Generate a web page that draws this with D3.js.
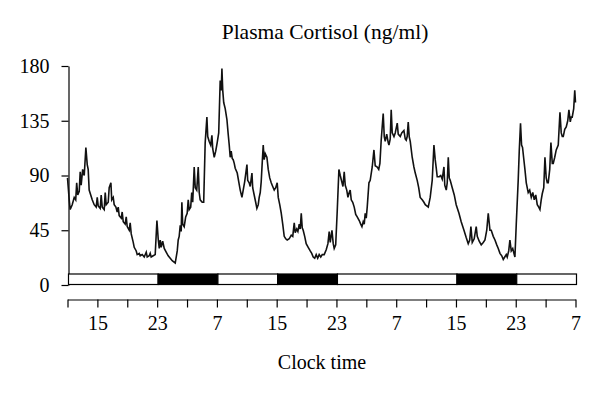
<!DOCTYPE html>
<html>

<head>
    <meta charset="UTF-8">
    <style>
        body { margin: 0; background: #fff; }
        svg { display: block; font-family: "Liberation Serif", "Times New Roman", serif; }
    </style>
</head>

<body>
    <svg></svg>
    <script src="https://d3js.org/d3.v7.min.js"></script>

    <script>

        let width = 600, height = 393;

        // hours after 11:00 on day 1, and plasma cortisol (ng/ml)
        const hours = [
            0.00, 0.23, 0.36, 0.63, 0.90, 1.10, 1.23, 1.37, 1.57, 1.70, 1.83, 2.03, 2.24, 2.46, 2.64, 2.77, 2.90,
            3.31, 3.57, 3.84, 3.98, 4.11, 4.38, 4.51, 4.65, 4.91, 5.05, 5.18, 5.45, 5.58, 5.81, 5.92, 6.12, 6.25,
            6.48, 6.65, 6.79, 6.92, 7.19, 7.32, 7.46, 7.72, 7.86, 7.99, 8.26, 8.39, 8.53, 8.80, 8.93, 9.20, 9.33,
            9.60, 9.73, 10.00, 10.27, 10.54, 10.67, 10.94, 11.07, 11.20, 11.47, 11.74, 11.97, 12.14, 12.28, 12.41,
            12.54, 12.74, 12.95, 13.21, 13.48, 13.75, 14.02, 14.42,
            14.69, 14.82, 14.95, 15.09, 15.22, 15.31, 15.42, 15.62, 15.82, 16.02, 16.16, 16.29, 16.49, 16.63, 16.76,
            16.96, 17.10, 17.30, 17.50, 17.63, 17.76, 18.03, 18.23, 18.43, 18.66, 18.77, 18.97, 19.17, 19.33, 19.44,
            19.64, 19.84, 20.04, 20.24, 20.44, 20.58, 20.67, 20.78, 20.91, 21.11, 21.34, 21.51, 21.65, 21.78, 21.91,
            22.05, 22.18, 22.32, 22.45, 22.72, 22.92, 23.12, 23.35, 23.52, 23.72, 24.02, 24.12, 24.32, 24.46, 24.69,
            24.79, 24.99, 25.19, 25.35, 25.53, 25.66, 25.80, 25.93, 26.06, 26.20, 26.33, 26.47, 26.69, 26.87, 27.07, 27.27,
            27.40, 27.67, 27.87, 28.07, 28.21, 28.41, 28.61, 28.81, 29.01, 29.21, 29.41, 29.68, 29.95, 30.15, 30.35,
            30.48, 30.68, 30.84, 31.02, 31.15, 31.29, 31.42, 31.55, 31.75, 31.95, 32.22, 32.49, 32.69, 32.89, 33.09,
            33.29, 33.49, 33.69, 33.90, 34.10, 34.36, 34.63, 34.86, 35.03, 35.17, 35.40, 35.57, 35.70, 35.90, 36.10,
            36.33, 36.51, 36.71, 36.87, 37.04, 37.18, 37.38, 37.54, 37.71, 37.84, 37.98, 38.18, 38.38, 38.58, 38.78,
            39.05, 39.25, 39.41, 39.58, 39.72, 39.85, 39.99, 40.12, 40.35, 40.52, 40.79,
            41.02, 41.19, 41.46, 41.66, 41.82, 41.99, 42.26, 42.40, 42.53, 42.73, 42.93, 43.03, 43.20, 43.33, 43.47,
            43.70, 43.87, 44.14, 44.27, 44.54, 44.74, 45.03, 45.21, 45.34, 45.47, 45.61, 45.74, 45.88, 46.14, 46.37,
            46.55, 46.81, 47.01, 47.21, 47.48, 47.71, 47.89, 48.09, 48.29, 48.55, 48.82, 49.05, 49.22, 49.36, 49.49,
            49.76, 49.96, 50.16, 50.39, 50.50, 50.70, 50.83, 50.97, 51.10, 51.23, 51.50, 51.77, 52.03, 52.40, 52.70,
            53.07, 53.37, 53.64,
            53.84, 54.00, 54.18, 54.44, 54.71, 54.85, 55.11, 55.38, 55.65, 55.88, 56.12, 56.32, 56.55, 56.72, 56.99,
            57.22, 57.46, 57.66, 57.89, 58.13, 58.33, 58.53, 58.73, 58.86, 59.06, 59.22, 59.40, 59.60, 59.80, 59.89,
            60.07, 60.33, 60.47, 60.64, 60.78, 60.91, 61.07, 61.23, 61.41, 61.67, 61.87, 62.08, 62.28, 62.48, 62.68,
            62.88, 63.08, 63.24, 63.41, 63.55, 63.75, 63.91, 64.08, 64.22, 64.35, 64.55, 64.71, 64.89, 65.02, 65.22,
            65.42, 65.69, 65.92, 66.09, 66.23, 66.36, 66.56, 66.76, 66.96, 67.12, 67.30, 67.43, 67.56, 67.76, 67.90, 68.00
        ];
        const cortisol = [
            88, 70, 62, 66, 72, 70, 84, 74, 77, 93, 82, 95, 90, 113, 99, 95, 78,
            70, 66, 64, 72, 65, 63, 74, 64, 62, 76, 66, 68, 80, 84, 70, 72, 66,
            64, 60, 64, 57, 55, 60, 52, 50, 56, 48, 45, 51, 42, 35, 31, 28, 25,
            26, 24, 25, 23, 27, 23, 24, 26, 23, 24, 25, 53, 38, 30, 37,
            31, 36, 30, 27, 24, 22, 20, 18,
            28, 37, 40, 49, 44, 68, 50, 48, 56, 59, 70, 62, 64, 76, 68,
            97, 80, 78, 97, 76, 70, 68, 68, 117, 138, 122, 118, 115, 123, 112,
            105, 110, 117, 125, 168, 160, 178, 160, 150, 145, 136, 124, 115, 105, 110,
            104, 103, 100, 96, 92, 85, 78, 72, 78, 85, 99, 86, 84, 81, 92,
            80, 74, 68, 63, 66, 72, 76, 85, 100, 115, 103, 108, 105, 95, 88, 84,
            82, 78, 80, 84, 72, 66, 59, 50, 40, 38, 37, 38, 41, 40, 51,
            43, 46, 44, 50, 46, 59, 47, 45, 40, 34, 31, 28, 26, 23, 22,
            25, 22, 25, 23, 25, 25, 29, 34, 44, 35, 45, 34, 30, 33, 60,
            95, 90, 85, 81, 93, 82, 78, 72, 76, 78, 70, 68, 64, 58, 56,
            53, 50, 48, 52, 50, 59, 55, 64, 84, 86, 97,
            111, 98, 97, 95, 100, 119, 141, 122, 118, 124, 117, 115, 120, 144, 125,
            122, 125, 133, 124, 122, 125, 127, 120, 119, 122, 134, 122, 118, 105, 97,
            92, 86, 80, 72, 70, 68, 66, 65, 64, 72, 86, 115, 103, 96, 89,
            89, 90, 87, 97, 82, 78, 84, 105, 88, 86, 80, 74, 66, 59, 52,
            45, 39, 34,
            37, 48, 35, 38, 48, 40, 36, 33, 35, 37, 45, 59, 45, 45, 40,
            37, 33, 30, 26, 24, 21, 23, 25, 23, 28, 37, 28, 30, 25, 23,
            50, 86, 110, 133, 115, 113, 104, 95, 84, 76, 78, 72, 76, 70, 74,
            66, 64, 62, 70, 75, 80, 105, 88, 84, 84, 95, 117, 100, 100, 105,
            111, 115, 142, 125, 122, 122, 128, 130, 135, 144, 134, 138, 138, 145, 160, 150
        ];

        // light / dark schedule bar
        const phaseStart = [0, 12, 20, 28, 36, 52, 60];
        const phaseEnd = [12, 20, 28, 36, 52, 60, 68];
        const phaseDark = [false, true, false, true, false, true, false];

        const yTicks = [0, 45, 90, 135, 180];
        const xTicks = d3.range(0, 69, 4);
        const startClock = 11;

        let svg = d3.select("svg")
            .attr("width", width)
            .attr("height", height)
            .attr("viewBox", "0 0 " + width + " " + height);

        const x = d3.scaleLinear().domain([0, 68]).range([67.5, 575.5]);
        const y = d3.scaleLinear().domain([0, 180]).range([285, 66]);

        // title
        svg.append("text")
            .attr("x", 325)
            .attr("y", 39)
            .attr("text-anchor", "middle")
            .style("font-size", "21.5px")
            .text("Plasma Cortisol (ng/ml)");

        // y axis
        let yAxis = svg.append("g")
            .attr("transform", "translate(68.5,0)")
            .call(d3.axisLeft(y).tickValues(yTicks).tickSize(7).tickSizeOuter(0).tickPadding(12));
        yAxis.select(".domain").attr("stroke-width", 1.2);
        yAxis.selectAll(".tick line").attr("stroke-width", 1.2);
        yAxis.selectAll("text").style("font-size", "20px").attr("fill", "#000")
            .style("font-family", "'Liberation Serif', serif");

        // schedule bar
        svg.append("g")
            .selectAll("rect")
            .data(phaseStart)
            .enter()
            .append("rect")
            .attr("x", (d, i) => x(d) + 1)
            .attr("width", (d, i) => x(phaseEnd[i]) - x(d))
            .attr("y", y(0) - 11)
            .attr("height", 10.5)
            .attr("fill", (d, i) => phaseDark[i] ? "#000" : "#fff")
            .attr("stroke", "#000")
            .attr("stroke-width", 1.2);

        // cortisol trace
        let line = d3.line()
            .x((d, i) => x(hours[i]))
            .y(d => y(d));

        svg.append("path")
            .datum(cortisol)
            .attr("d", line)
            .attr("fill", "none")
            .attr("stroke", "#111")
            .attr("stroke-width", 1.6)
            .attr("stroke-linejoin", "miter");

        // x axis
        let xAxis = svg.append("g")
            .attr("transform", "translate(0,299.5)")
            .call(d3.axisBottom(x)
                .tickValues(xTicks)
                .tickSize(8)
                .tickSizeOuter(0)
                .tickPadding(8)
                .tickFormat(d => (d - 4) % 8 === 0 ? (startClock + d) % 24 : ""));
        xAxis.select(".domain").attr("stroke-width", 1.2);
        xAxis.selectAll(".tick line").attr("stroke-width", 1.2);
        xAxis.selectAll("text").style("font-size", "20px").attr("fill", "#000")
            .style("font-family", "'Liberation Serif', serif");

        svg.append("text")
            .attr("x", 322)
            .attr("y", 369)
            .attr("text-anchor", "middle")
            .style("font-size", "20px")
            .text("Clock time");

    </script>

</body>

</html>
